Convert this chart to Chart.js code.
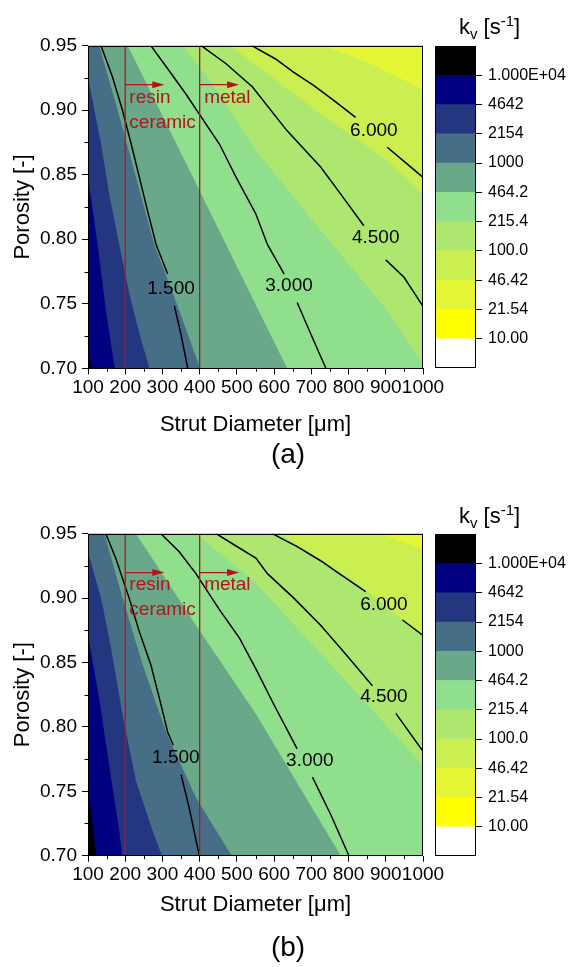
<!DOCTYPE html>
<html>
<head>
<meta charset="utf-8">
<script src="https://cdn.jsdelivr.net/npm/chart.js@4/dist/chart.umd.min.js"></script>
<style>
  body { margin: 0; background: #fff; width: 571px; height: 967px; position: relative; overflow: hidden;
         font-family: "Liberation Sans", Arial, sans-serif; }
  canvas { position: absolute; }
  .txt { position: absolute; color: #000; white-space: nowrap; line-height: 22px; }
  .sm { font-size: 15px; position: relative; }
</style>
</head>
<body>
<canvas id="plotA" width="571" height="480" style="left:0;top:0"></canvas>
<canvas id="barA" width="141" height="480" style="left:430px;top:0"></canvas>
<canvas id="plotB" width="571" height="487" style="left:0;top:480px"></canvas>
<canvas id="barB" width="141" height="487" style="left:430px;top:480px"></canvas>

<div class="txt" style="left:459px;top:16px;font-size:22px">k<span class="sm" style="top:5px">v</span> [s<span class="sm" style="top:-8px">-1</span>]</div>
<div class="txt" style="left:459px;top:505px;font-size:22px">k<span class="sm" style="top:5px">v</span> [s<span class="sm" style="top:-8px">-1</span>]</div>
<div class="txt" style="left:238px;width:100px;text-align:center;top:440px;font-size:28px;line-height:28px">(a)</div>
<div class="txt" style="left:238px;width:100px;text-align:center;top:933px;font-size:28px;line-height:28px">(b)</div>

<script>
// axes
const xTicks = [100, 200, 300, 400, 500, 600, 700, 800, 900, 1000];
const xMinor = [150, 250, 350, 450, 550, 650, 750, 850, 950];
const yTicks = [0.70, 0.75, 0.80, 0.85, 0.90, 0.95];
const yMinor = [0.725, 0.775, 0.825, 0.875, 0.925];

// colour scale, lowest level first
const levelLabels = ['10.00', '21.54', '46.42', '100.0', '215.4', '464.2', '1000', '2154', '4642', '1.000E+04'];
const bandColors = ['#ffffff', '#ffff00', '#e4f634', '#cbee50', '#aee770', '#90df8d',
                    '#6aa88a', '#476e87', '#24367f', '#000080', '#000000'];

// (a) band boundaries [strut diameter, porosity], darkest boundary first
const aBound1 = [[100, 0.714], [110, 0.70]];
const aBound2 = [[100, 0.848], [126, 0.796], [148, 0.745], [172, 0.70]];
const aBound3 = [[100, 0.9255], [135, 0.874], [157, 0.835], [184, 0.796], [211, 0.758], [238, 0.727], [265, 0.70]];
const aBound4 = [[130, 0.95], [180, 0.90], [229, 0.848], [278, 0.796], [345, 0.745], [401, 0.70]];
const aBound5 = [[207, 0.95], [377, 0.851], [546, 0.752], [635, 0.70]];
const aBound6 = [[354, 0.95], [453, 0.913], [548, 0.870], [725, 0.807], [904, 0.745], [1000, 0.703]];
const aBound7 = [[480, 0.95], [546, 0.936], [725, 0.897], [904, 0.861], [1000, 0.835]];
const aBound8 = [[734, 0.95], [860, 0.936], [1000, 0.916]];

// (a) contour lines, null = gap for the label
const aLine15 = [[135, 0.95], [166, 0.9255], [193, 0.8996], [216, 0.8738], [238, 0.848], [260, 0.822], [283, 0.796], [314, 0.773], null, [332, 0.7485], [350, 0.726], [368, 0.70]];
const aLine30 = [[269, 0.95], [318, 0.9306], [363, 0.9126], [399, 0.897], [453, 0.8738], [498, 0.848], [551, 0.8196], [582, 0.796], [627, 0.773], null, [662, 0.751], [698, 0.727], [739, 0.70]];
const aLine45 = [[404, 0.95], [471, 0.936], [542, 0.918], [635, 0.884], [725, 0.856], [779, 0.835], [841, 0.8105], null, [900, 0.784], [949, 0.7705], [1000, 0.748]];
const aLine60 = [[540, 0.95], [604, 0.9397], [653, 0.9294], [707, 0.919], [761, 0.9074], [819, 0.8945], null, [904, 0.8713], [1000, 0.848]];
const aLevelAt = [[323, 0.7615], [640, 0.764], [873, 0.8015], [868, 0.8837]];

// (b) band boundaries
const bBound1 = [[100, 0.752], [112, 0.725], [123, 0.70]];
const bBound2 = [[100, 0.871], [130, 0.822], [157, 0.770], [184, 0.719], [192, 0.70]];
const bBound3 = [[100, 0.936], [135, 0.900], [162, 0.861], [193, 0.809], [229, 0.758], [274, 0.719], [299, 0.70]];
const bBound4 = [[144, 0.95], [193, 0.90], [247, 0.848], [310, 0.796], [390, 0.745], [486, 0.70]];
const bBound5 = [[229, 0.95], [390, 0.879], [551, 0.810], [779, 0.70]];
const bBound6 = [[390, 0.95], [546, 0.913], [770, 0.843], [1000, 0.770]];
const bBound7 = [[618, 0.95], [815, 0.913], [1000, 0.871]];
const bBound8 = [[886, 0.95], [1000, 0.938]];

// (b) contour lines
const bLine15 = [[148, 0.95], [175, 0.9306], [211, 0.8996], [238, 0.8738], [269, 0.848], [292, 0.822], [314, 0.796], [329, 0.786], null, [350, 0.763], [372, 0.737], [399, 0.70]];
const bLine30 = [[296, 0.95], [345, 0.936], [390, 0.919], [453, 0.891], [507, 0.869], [551, 0.845], [600, 0.817], [662, 0.783], null, [703, 0.761], [752, 0.732], [801, 0.70]];
const bLine45 = [[444, 0.95], [489, 0.942], [551, 0.931], [582, 0.919], [653, 0.900], [725, 0.879], [788, 0.858], [864, 0.832], null, [927, 0.8105], [1000, 0.781]];
const bLine60 = [[595, 0.95], [662, 0.940], [725, 0.929], [770, 0.920], [846, 0.905], null, [945, 0.883], [1000, 0.871]];
const bLevelAt = [[336, 0.776], [696, 0.7735], [895, 0.8234], [895, 0.895]];

const levelText = ['1.500', '3.000', '4.500', '6.000'];

// process limits: resin/ceramic from 200 µm, metal from 400 µm
const limitX = [200, 400];
const arrowY = 0.9198;
const arrowTo = [305, 506];
const notes = [['resin', 211, 0.910], ['ceramic', 211, 0.8906], ['metal', 412, 0.910]];

const RED = '#b3141c';
const FONT = '"Liberation Sans", Arial, sans-serif';
const X0 = 100, X1 = 1000, Y0 = 0.70, Y1 = 0.95;

const pts = arr => arr.map(p => p ? {x: p[0], y: p[1]} : {x: null, y: null});

// region up/right of a boundary, closed along the frame
function region(b) {
  const out = b.slice();
  if (b[b.length - 1][1] <= Y0) out.push([X1, Y0]);
  out.push([X1, Y1]);
  if (b[0][0] <= X0) out.push([X0, Y1]);
  out.push(b[0]);
  return out;
}

const decor = {
  id: 'decor',
  afterDatasetsDraw(chart, args, o) {
    const {ctx, chartArea: a, scales: {x, y}} = chart;
    ctx.save();
    // arrow heads
    ctx.fillStyle = RED;
    o.arrows.forEach(t => {
      const px = x.getPixelForValue(t), py = y.getPixelForValue(arrowY);
      ctx.beginPath();
      ctx.moveTo(px, py); ctx.lineTo(px - 12, py - 3.5); ctx.lineTo(px - 12, py + 3.5);
      ctx.closePath(); ctx.fill();
    });
    ctx.font = '19px ' + FONT;
    ctx.textBaseline = 'middle';
    ctx.textAlign = 'left';
    o.notes.forEach(n => ctx.fillText(n[0], x.getPixelForValue(n[1]), y.getPixelForValue(n[2])));
    ctx.fillStyle = '#000';
    ctx.textAlign = 'center';
    o.levelAt.forEach((p, i) => ctx.fillText(levelText[i], x.getPixelForValue(p[0]), y.getPixelForValue(p[1])));
    // frame
    ctx.strokeStyle = '#000';
    ctx.lineWidth = 1;
    ctx.strokeRect(Math.round(a.left) + 0.5, Math.round(a.top) + 0.5, Math.round(a.width) - 1, Math.round(a.height) - 1);
    // minor ticks
    ctx.beginPath();
    xMinor.forEach(v => { const px = Math.round(x.getPixelForValue(v)) + 0.5; ctx.moveTo(px, a.bottom); ctx.lineTo(px, a.bottom + 3.5); });
    yMinor.forEach(v => { const py = Math.round(y.getPixelForValue(v)) + 0.5; ctx.moveTo(a.left, py); ctx.lineTo(a.left - 3.5, py); });
    ctx.stroke();
    ctx.restore();
  }
};

function plot(id, g, bounds, lines, levelAt) {
  const datasets = [];
  datasets.push({data: pts(region([[X0, Y0]])), fill: 'shape', backgroundColor: bandColors[10], borderWidth: 0, order: 60});
  bounds.forEach((b, k) => {
    datasets.push({data: pts(region(b)), fill: 'shape', backgroundColor: bandColors[9 - k], borderWidth: 0, order: 59 - k});
  });
  lines.forEach(l => datasets.push({data: pts(l), borderColor: '#000', borderWidth: 1.5, fill: false, order: 2}));
  limitX.forEach((v, i) => {
    datasets.push({data: pts([[v, Y0], [v, Y1]]), borderColor: RED, borderWidth: 1.3, fill: false, order: 1});
    datasets.push({data: pts([[v, arrowY], [arrowTo[i] - 20, arrowY]]), borderColor: RED, borderWidth: 1.3, fill: false, order: 1});
  });

  new Chart(document.getElementById(id), {
    type: 'line',
    data: {datasets},
    plugins: [decor],
    options: {
      responsive: false, animation: false, events: [],
      elements: {point: {radius: 0, hoverRadius: 0}, line: {tension: 0}},
      layout: {padding: {left: 0, top: g.top, right: 148, bottom: 0}},
      plugins: {
        legend: {display: false}, tooltip: {enabled: false},
        decor: {arrows: arrowTo, notes, levelAt}
      },
      scales: {
        x: {
          type: 'linear', min: X0, max: X1,
          afterBuildTicks: s => { s.ticks = xTicks.map(v => ({value: v})); },
          afterFit: s => { s.height = g.xH; },
          ticks: {autoSkip: false, maxRotation: 0, padding: 2, color: '#000', font: {size: 19, family: FONT}, callback: v => String(v)},
          grid: {drawOnChartArea: false, tickLength: 6, color: '#000'},
          border: {display: false},
          title: {display: true, text: 'Strut Diameter [μm]', color: '#000', font: {size: 22, family: FONT}, padding: {top: 0, bottom: g.titlePad}}
        },
        y: {
          type: 'linear', min: Y0, max: Y1,
          afterBuildTicks: s => { s.ticks = yTicks.map(v => ({value: v})); },
          afterFit: s => { s.width = 88; },
          ticks: {autoSkip: false, padding: 5, color: '#000', font: {size: 19, family: FONT}, callback: v => v.toFixed(2)},
          grid: {drawOnChartArea: false, tickLength: 6, color: '#000'},
          border: {display: false},
          title: {display: true, text: 'Porosity [-]', color: '#000', font: {size: 22, family: FONT}, padding: {top: 10, bottom: 0}}
        }
      }
    }
  });
}

const frame = {
  id: 'frame',
  afterDatasetsDraw(chart) {
    const {ctx, chartArea: a} = chart;
    ctx.save();
    ctx.strokeStyle = '#000'; ctx.lineWidth = 1;
    ctx.strokeRect(Math.round(a.left) + 0.5, Math.round(a.top) + 0.5, Math.round(a.width) - 1, Math.round(a.height) - 1);
    ctx.restore();
  }
};

function colorBar(id, top, bottom) {
  new Chart(document.getElementById(id), {
    type: 'bar',
    data: {
      labels: [''],
      datasets: bandColors.map(c => ({data: [1], backgroundColor: c, borderWidth: 0, barPercentage: 1, categoryPercentage: 1}))
    },
    plugins: [frame],
    options: {
      responsive: false, animation: false, events: [],
      layout: {padding: {left: 5, top, right: 0, bottom}},
      plugins: {legend: {display: false}, tooltip: {enabled: false}},
      scales: {
        x: {display: false, stacked: true},
        y: {
          stacked: true, min: 0, max: 11, position: 'right',
          afterBuildTicks: s => { s.ticks = levelLabels.map((t, i) => ({value: i + 1})); },
          afterFit: s => { s.width = 95; },
          ticks: {padding: 6, color: '#000', font: {size: 16, family: FONT}, callback: v => levelLabels[v - 1]},
          grid: {drawOnChartArea: false, tickLength: 6, color: '#000'},
          border: {display: false}
        }
      }
    }
  });
}

plot('plotA', {top: 45.7, xH: 111.7, titlePad: 41.8},
  [aBound1, aBound2, aBound3, aBound4, aBound5, aBound6, aBound7, aBound8],
  [aLine15, aLine30, aLine45, aLine60], aLevelAt);
plot('plotB', {top: 53.7, xH: 111.3, titlePad: 48.8},
  [bBound1, bBound2, bBound3, bBound4, bBound5, bBound6, bBound7, bBound8],
  [bLine15, bLine30, bLine45, bLine60], bLevelAt);
colorBar('barA', 46, 112);
colorBar('barB', 54.3, 111);
</script>
</body>
</html>
